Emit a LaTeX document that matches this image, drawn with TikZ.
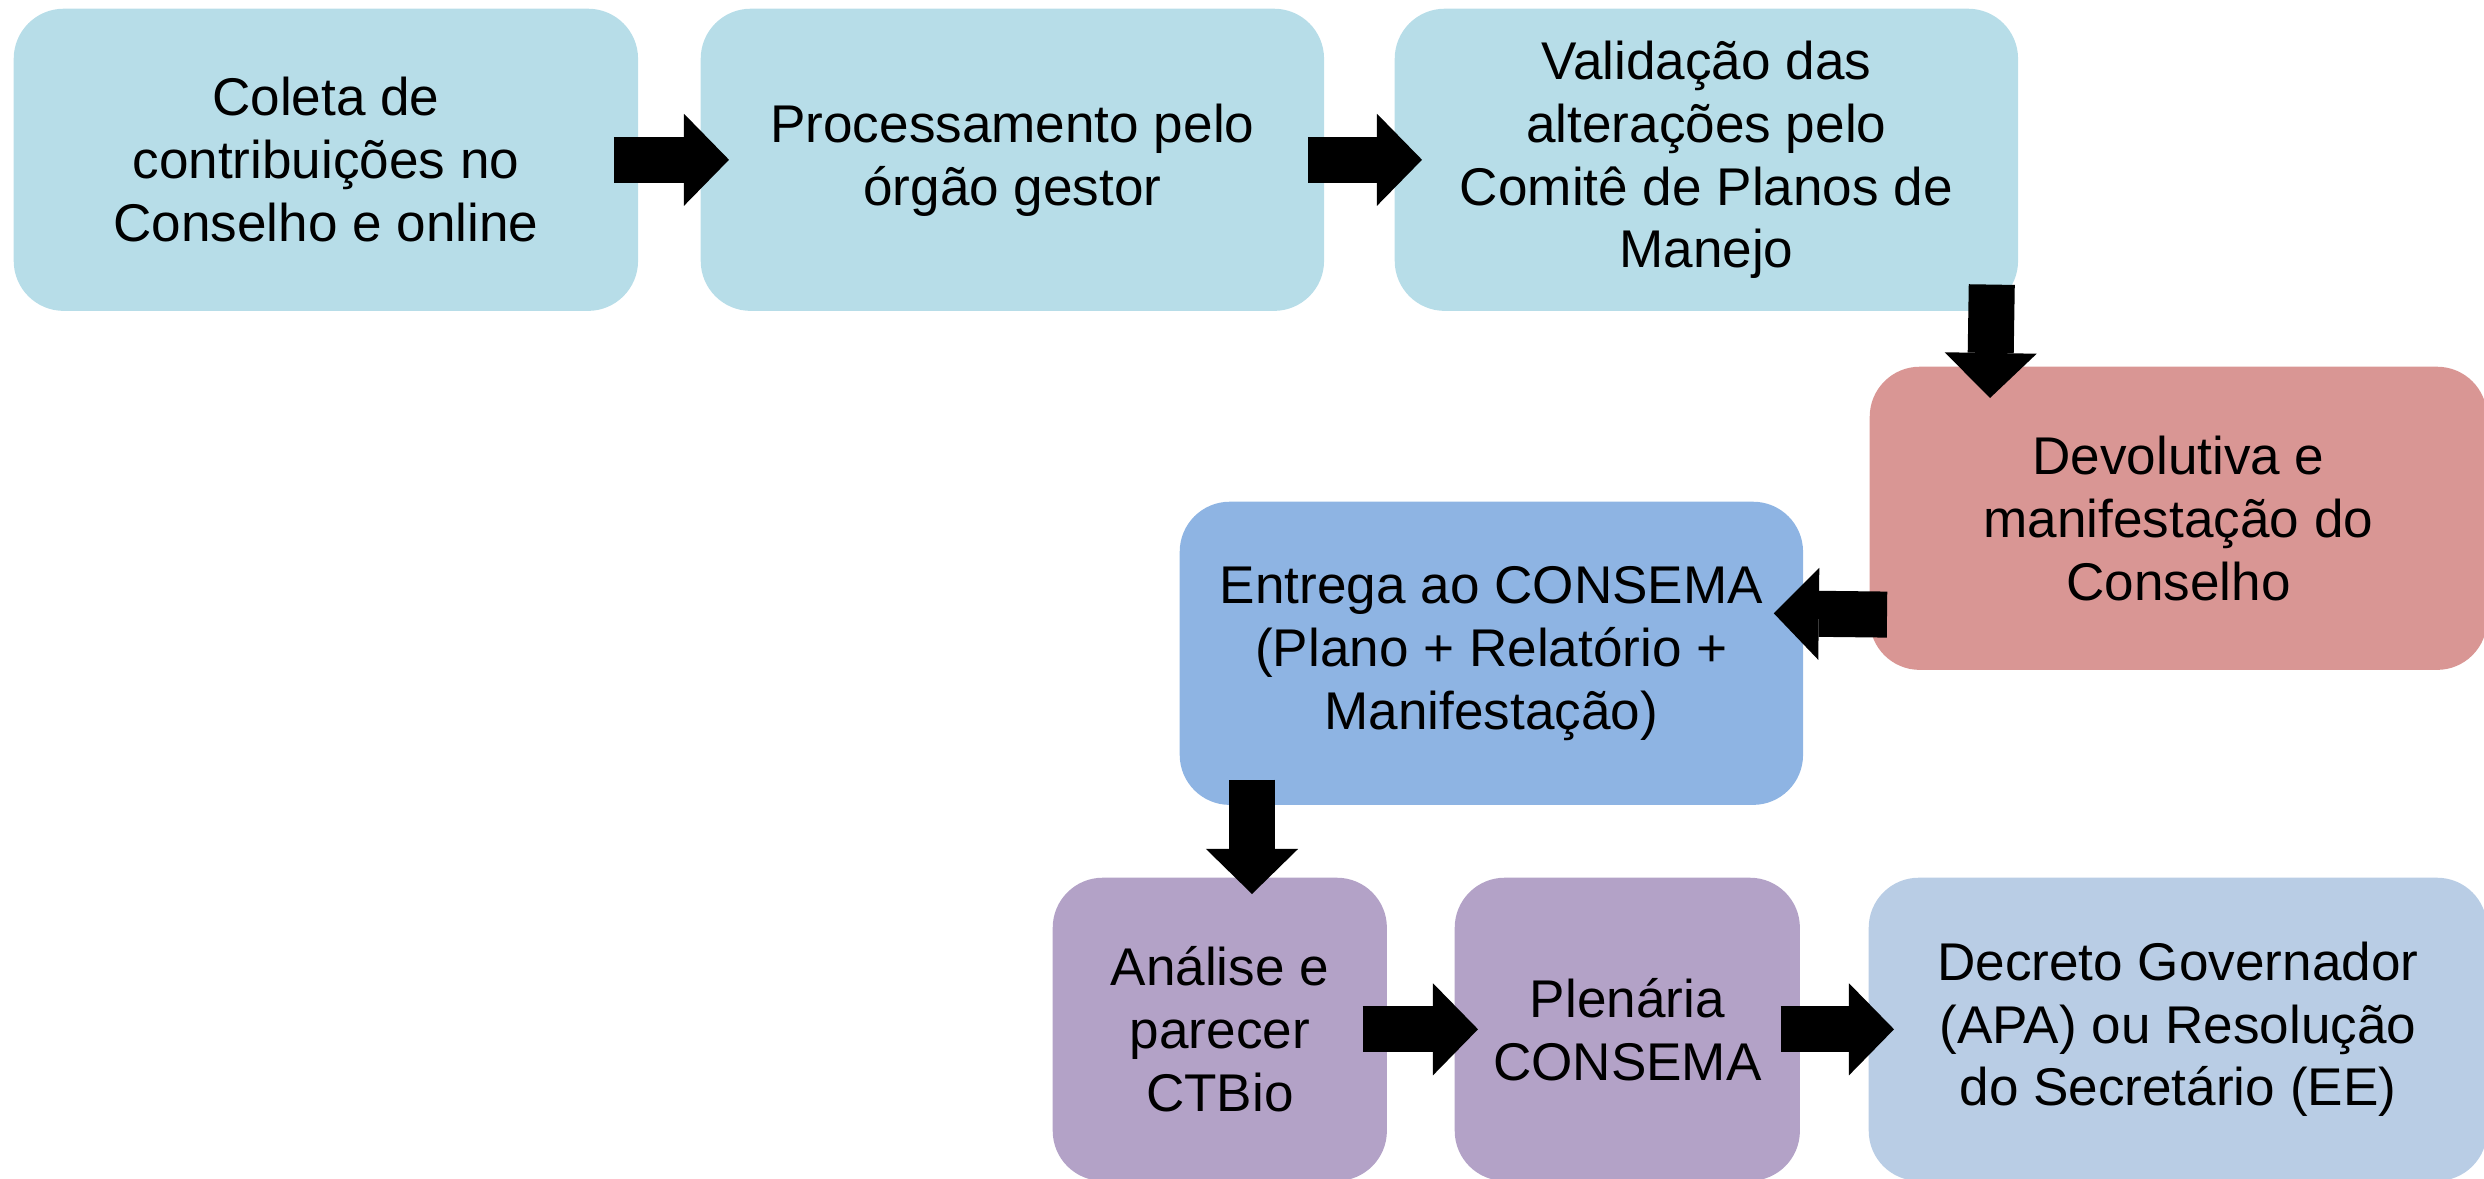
\documentclass[tikz,border=0pt]{standalone}
\usepackage{fontspec}
\setmainfont{Liberation Sans}
\usetikzlibrary{calc,arrows.meta}
\definecolor{cyanfill}{HTML}{B7DDE8}
\definecolor{redfill}{HTML}{D99694}
\definecolor{bluefill}{HTML}{8EB4E3}
\definecolor{purplefill}{HTML}{B3A2C7}
\definecolor{steelfill}{HTML}{B9CDE5}
\begin{document}
\begin{tikzpicture}[x=0.01cm,y=-0.01cm,
  box/.style={rounded corners=0.5cm, minimum height=3.03cm, align=center,
    inner sep=0pt, anchor=north west, font=\fontsize{15.1}{17.9}\selectfont},
  barrow/.style={line width=0.46cm, black,
    -{Triangle[length=0.45cm,width=0.92cm,line width=0pt]}}]
\useasboundingbox (0,0) rectangle (2484,1178);
% boxes
\node[box, fill=cyanfill, minimum width=6.24cm, minimum height=3.02cm] (b1) at (13,8)
  {Coleta de\\contribuições no\\Conselho e online};
\node[box, fill=cyanfill, minimum width=6.23cm, minimum height=3.02cm] (b2) at (700,8)
  {Processamento pelo\\órgão gestor};
\node[box, fill=cyanfill, minimum width=6.23cm, minimum height=3.02cm] (b3) at (1394,8)
  {Validação das\\alterações pelo\\Comitê de Planos de\\Manejo};
\node[box, fill=redfill, minimum width=6.17cm] (b4) at (1869,366)
  {Devolutiva e\\manifestação do\\Conselho};
\node[box, fill=bluefill, minimum width=6.23cm] (b5) at (1179,501)
  {Entrega ao CONSEMA\\(Plano + Relatório +\\Manifestação)};
\node[box, fill=purplefill, minimum width=3.34cm] (b6) at (1052,877)
  {Análise e\\parecer\\CTBio};
\node[box, fill=purplefill, minimum width=3.45cm] (b7) at (1454,877)
  {Plenária\\CONSEMA};
\node[box, fill=steelfill, minimum width=6.18cm] (b8) at (1868,877)
  {Decreto Governador\\(APA) ou Resolução\\do Secretário (EE)};
% block arrows
\draw[barrow] ($(b1.east)+(-25,0)$) -- ($(b2.west)+(29,0)$);
\draw[barrow] ($(b2.east)+(-17,0)$) -- ($(b3.west)+(28,0)$);
\draw[barrow] ($(b3.south east)+(-27,-27)$) -- ($(b4.north west)+(121,32)$);
\draw[barrow] ($(b4.south west)+(18,-56)$) -- ($(b5.east)+(-30,-40)$);
\draw[barrow] ($(b5.south west)+(73,-26)$) -- ($(b6.north west)+(200,17)$);
\draw[barrow] ($(b6.east)+(-25,0)$) -- ($(b7.west)+(24,0)$);
\draw[barrow] ($(b7.east)+(-20,0)$) -- ($(b8.west)+(26,0)$);
\end{tikzpicture}
\end{document}
